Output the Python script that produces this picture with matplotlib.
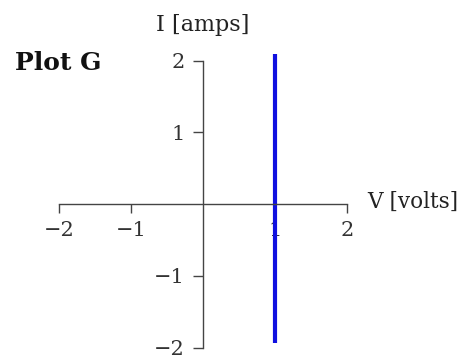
import matplotlib
matplotlib.use("Agg")
import matplotlib.pyplot as plt

# I-V characteristic: constant voltage, any current
v_line = [1.0, 1.0]
i_line = [-1.94, 2.09]

x_ticks = [-2, -1, 1, 2]
y_ticks = [-2, -1, 1, 2]

plt.rcParams['font.family'] = ['DejaVu Serif']

fig = plt.figure(figsize=(4.69, 3.62), dpi=100)
ax = fig.add_axes([23 / 469, 0.0, 360 / 469, 322.9 / 362])
ax.set_xlim(-2.5, 2.5)
ax.set_ylim(-2.2, 2.3)
ax.patch.set_alpha(0)

ax.plot(v_line, i_line, color='#1010e0', lw=3, solid_capstyle='butt')

for side in ['top', 'right']:
    ax.spines[side].set_visible(False)
for side in ['left', 'bottom']:
    ax.spines[side].set_position(('data', 0))
    ax.spines[side].set_bounds(-2, 2)
    ax.spines[side].set_color('#444444')
    ax.spines[side].set_linewidth(1.0)

ax.set_xticks(x_ticks)
ax.set_yticks(y_ticks)
ax.set_xticklabels(['\u22122', '\u22121', '1', '2'])
ax.set_yticklabels(['\u22122', '\u22121', '1', '2'])
ax.tick_params(axis='x', direction='out', length=6.5, width=1, color='#444444',
               labelsize=15, labelcolor='#333333', pad=6)
ax.tick_params(axis='y', direction='out', length=7, width=1, color='#444444',
               labelsize=15, labelcolor='#333333', pad=6)

fig.text(203 / 469, 1 - 25 / 362, 'I [amps]', ha='center', va='center',
         fontsize=16, color='#222222')
fig.text(367 / 469, 1 - 202 / 362, 'V [volts]', ha='left', va='center',
         fontsize=15.5, color='#222222')
fig.text(15 / 469, 1 - 63 / 362, 'Plot G', ha='left', va='center',
         fontsize=18, fontweight='bold', color='#111111')

fig.savefig('out.png', dpi=100)
